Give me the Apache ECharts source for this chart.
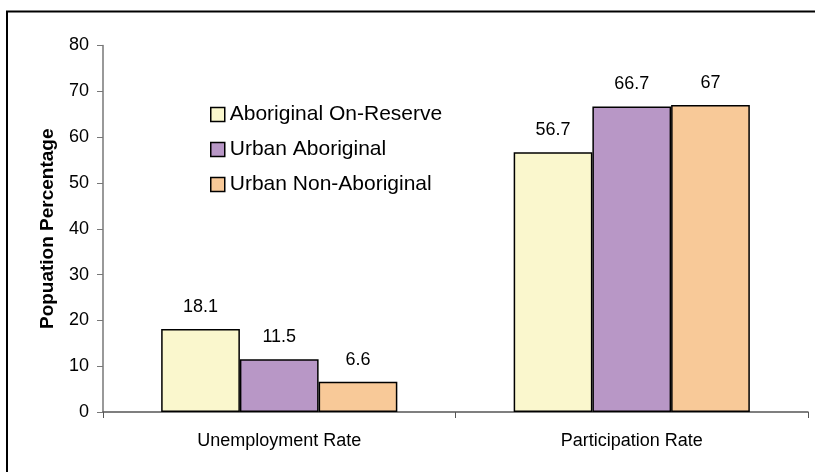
<!DOCTYPE html>
<html>
<head>
<meta charset="utf-8">
<script src="https://cdn.jsdelivr.net/npm/echarts@6/dist/echarts.min.js"></script>
<style>
html,body{margin:0;padding:0;background:#fff;}
#chart{width:815px;height:472px;}
</style>
</head>
<body>
<div id="chart"></div>
<script>
var categories = ["Unemployment Rate", "Participation Rate"];
var seriesNames = ["Aboriginal On-Reserve", "Urban Aboriginal", "Urban Non-Aboriginal"];
var onReserve = [18.1, 56.7];
var urbanAboriginal = [11.5, 66.7];
var urbanNonAboriginal = [6.6, 67];
var yTicks = [0, 10, 20, 30, 40, 50, 60, 70, 80];
var colors = ["#FAF7CD", "#B897C6", "#F8C998"];
var FONT = "'Liberation Sans', Arial, sans-serif";

var values = [onReserve, urbanAboriginal, urbanNonAboriginal];
var chart = echarts.init(document.getElementById('chart'), null, {renderer: 'canvas'});
var series = seriesNames.map(function (n, i) {
  return {
    name: n,
    type: 'bar',
    data: values[i],
    barGap: '0%',
    barCategoryGap: '33%',
    itemStyle: {color: colors[i], borderColor: '#000', borderWidth: 1.5},
    label: {show: true, position: 'top', distance: 13, color: '#000', fontSize: 18, fontFamily: FONT},
    emphasis: {disabled: true}
  };
});
chart.setOption({
  animation: false,
  backgroundColor: '#fff',
  graphic: [{
    type: 'rect', shape: {x: 7, y: 11.5, width: 900, height: 600},
    style: {fill: null, stroke: '#000', lineWidth: 2}, silent: true, z: -1
  }],
  grid: {left: 103, right: 7, top: 45.5, bottom: 60, containLabel: false},
  legend: {
    orient: 'vertical', left: 205, top: 99,
    itemWidth: 14, itemHeight: 14, itemGap: 14,
    icon: 'rect',
    itemStyle: {borderColor: '#000', borderWidth: 1.5},
    textStyle: {fontSize: 21, color: '#000', fontFamily: FONT, padding: [0, 0, 0, 0]},
    data: seriesNames
  },
  xAxis: {
    type: 'category', data: categories,
    axisLine: {lineStyle: {color: '#555', width: 1.5}},
    axisTick: {show: true, length: 6, alignWithLabel: false, lineStyle: {color: '#555'}},
    axisLabel: {fontSize: 18, color: '#000', fontFamily: FONT, margin: 20}
  },
  yAxis: {
    type: 'value', min: yTicks[0], max: yTicks[yTicks.length - 1], interval: 10,
    name: 'Popuation Percentage', nameLocation: 'middle', nameGap: 46,
    nameTextStyle: {fontSize: 19, fontWeight: 'bold', color: '#000', fontFamily: FONT},
    axisLine: {show: true, lineStyle: {color: '#777', width: 1.5}},
    axisTick: {show: true, length: 6, lineStyle: {color: '#777'}},
    splitLine: {show: false},
    axisLabel: {fontSize: 18, color: '#000', fontFamily: FONT, margin: 14}
  },
  series: series
});
</script>
</body>
</html>
